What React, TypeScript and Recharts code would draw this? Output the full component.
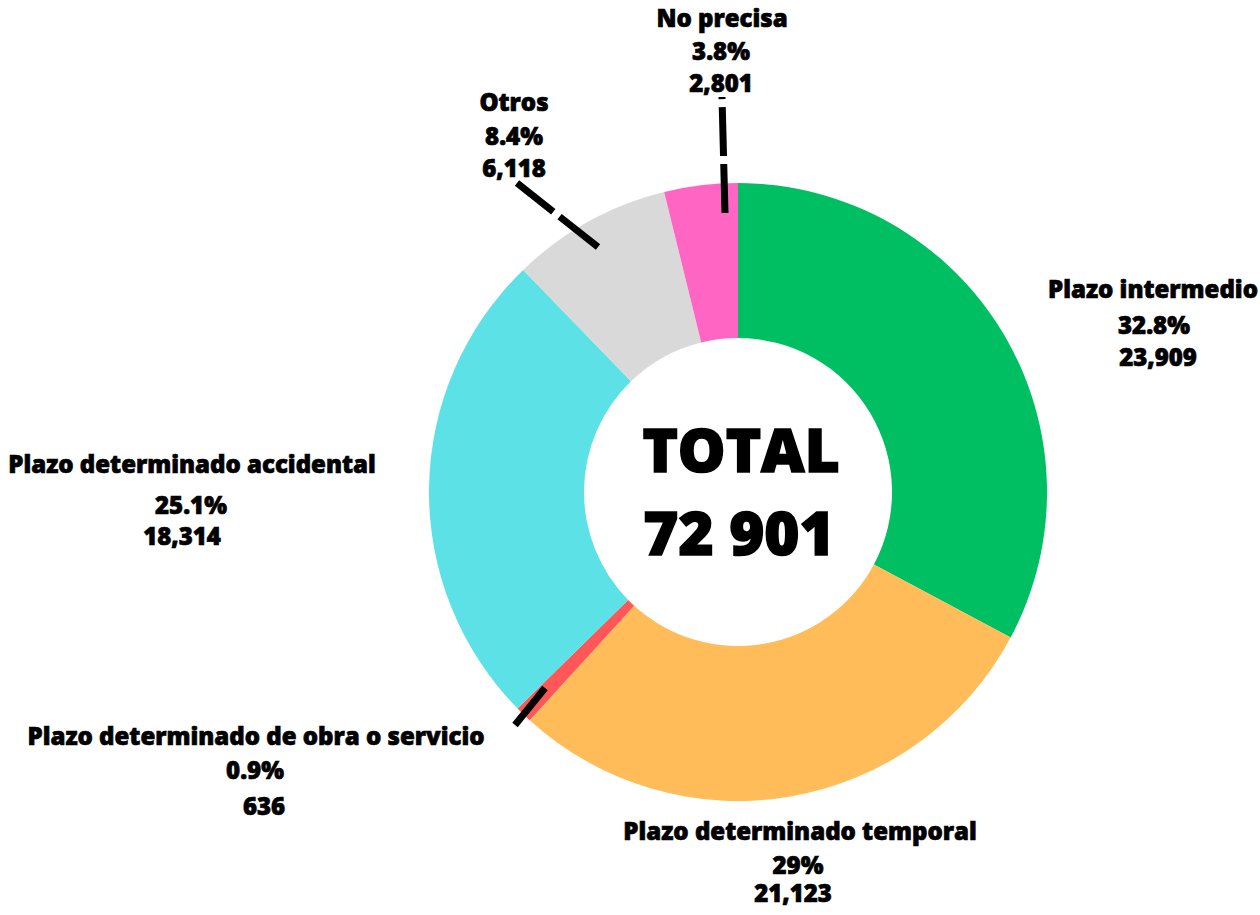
import React from "react";
import { PieChart, Pie, Cell } from "recharts";

const categories = [
  "Plazo intermedio",
  "Plazo determinado temporal",
  "Plazo determinado de obra o servicio",
  "Plazo determinado accidental",
  "Otros",
  "No precisa",
];
const values = [23909, 21123, 636, 18314, 6118, 2801];
const percentLabels = ["32.8%", "29%", "0.9%", "25.1%", "8.4%", "3.8%"];
const colors = ["#00BF63", "#FFBC59", "#FF5757", "#5CE1E6", "#D9D9D9", "#FF66C4"];
const totalLabel = ["TOTAL", "72 901"];

const data = categories.map((name, i) => ({ name, value: values[i] }));

// label line offsets relative to the pie centre: [dx, dy] for each of three lines
const labelLayout: number[][][] = [
  [[415, -194], [416, -158], [420, -126]],
  [[62, 348], [60, 382], [55, 410]],
  [[-482, 253], [-483, 287], [-474, 323]],
  [[-546, -19], [-547, 22], [-556, 53]],
  [[-224, -381], [-224, -347], [-224, -315]],
  [[-16, -465], [-17, -432], [-17, -400]],
];

// leader lines, from slice outward, relative to centre
const leaders: Record<number, number[]> = {
  2: [-193, 196, -223, 233],
  4: [-140, -245, -221, -309],
  5: [-13, -279, -16, -395],
};

const FONT = "'Open Sans', 'Noto Sans', sans-serif";

const renderLabel = (props: any) => {
  const { cx, cy, index } = props;
  const lay = labelLayout[index];
  const lines = [categories[index], percentLabels[index], values[index].toLocaleString("en-US")];
  const ld = leaders[index];
  return (
    <g key={`lbl-${index}`}>
      {index === 0 && (
        <g>
          <text x={cx + 3} y={cy - 20} textAnchor="middle" fontFamily={FONT} fontWeight={800} fontSize={60}
            fill="#000" stroke="#000" strokeWidth={1.6}>
            {totalLabel[0]}
          </text>
          <text x={cx + 1} y={cy + 63} textAnchor="middle" fontFamily={FONT} fontWeight={800} fontSize={60}
            fill="#000" stroke="#000" strokeWidth={1.6}>
            {totalLabel[1]}
          </text>
        </g>
      )}
      {ld && (
        <line
          x1={cx + ld[0]}
          y1={cy + ld[1]}
          x2={cx + ld[2]}
          y2={cy + ld[3]}
          stroke="#000"
          strokeWidth={7}
          strokeDasharray="49 8"
        />
      )}
      {lines.map((t, j) => (
        <text
          key={j}
          x={cx + lay[j][0]}
          y={cy + lay[j][1]}
          textAnchor="middle"
          fontFamily={FONT}
          fontWeight={800}
          fontSize={24}
          fill="#000"
          stroke="#000"
          strokeWidth={0.7}
        >
          {t}
        </text>
      ))}
    </g>
  );
};

export default function App() {
  return (
    <div style={{ position: "absolute", left: 0, top: 0, width: 1260, height: 915, background: "#fff" }}>
      <PieChart width={1260} height={915} margin={{ top: 0, right: 0, bottom: 0, left: 0 }}>
        <Pie
          data={data}
          dataKey="value"
          nameKey="name"
          cx={738}
          cy={492}
          innerRadius={154}
          outerRadius={309}
          startAngle={90}
          endAngle={-270}
          stroke="none"
          label={renderLabel}
          labelLine={false}
          isAnimationActive={false}
        >
          {data.map((d, i) => (
            <Cell key={d.name} fill={colors[i]} />
          ))}
        </Pie>
      </PieChart>
    </div>
  );
}
